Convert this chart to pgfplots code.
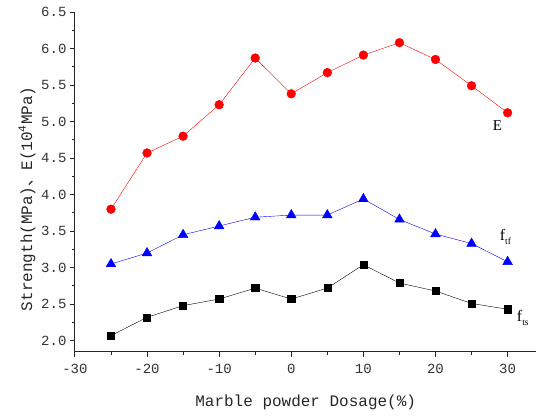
\documentclass[border=0pt]{standalone}
\usepackage{pgfplots}
\pgfplotsset{compat=1.18}
\usepackage{fontspec}
\setmainfont{Liberation Mono}
\newfontfamily\cjk{Noto Sans CJK SC}
\newfontfamily\serif{Liberation Serif}
\begin{document}
\begin{tikzpicture}
\begin{axis}[
  scale only axis, width=462pt, height=340pt,
  xmin=-30, xmax=34, ymin=1.85, ymax=6.5,
  axis x line=bottom, axis y line=left,
  axis line style={-, line width=1.1pt, black!85},
  xtick={-30,-20,...,30}, ytick={2.0,2.5,...,6.5},
  minor x tick num=1, minor y tick num=1,
  tick align=outside, major tick length=5pt, minor tick length=3pt,
  tick style={line width=0.9pt, black!85},
  /pgf/number format/assume math mode=true,
  yticklabel style={/pgf/number format/.cd, fixed, fixed zerofill, precision=1},
  xticklabel style={yshift=-4pt},
  ticklabel style={font=\fontsize{14}{16}\selectfont, text=black!80},
  label style={font=\fontsize{16}{18}\selectfont, text=black!85},
  xlabel={Marble powder Dosage(\%)},
  ylabel={Strength(MPa){\cjk 、}E(10\textsuperscript{4}MPa)},
  xlabel style={at={(axis description cs:0.5,0)}, anchor=center, yshift=-51pt},
  ylabel style={at={(axis description cs:0,0.45)}, anchor=center, yshift=48pt},
  clip=false,
]
\addplot[red, thin, mark=*, mark size=4.4pt, mark options={fill=red, draw=red}] coordinates {
(-25,3.80) (-20,4.57) (-15,4.80) (-10,5.23) (-5,5.87) (0,5.38) (5,5.67) (10,5.91) (15,6.08) (20,5.85) (25,5.49) (30,5.12)};
\addplot[blue, thin, mark=triangle*, mark size=5.6pt, mark options={fill=blue, draw=blue}] coordinates {
(-25,3.05) (-20,3.20) (-15,3.45) (-10,3.57) (-5,3.69) (0,3.72) (5,3.72) (10,3.94) (15,3.66) (20,3.46) (25,3.33) (30,3.08)};
\addplot[black, thin, mark=square*, mark size=3.6pt, mark options={fill=black, draw=black}] coordinates {
(-25,2.07) (-20,2.32) (-15,2.48) (-10,2.57) (-5,2.72) (0,2.57) (5,2.72) (10,3.04) (15,2.79) (20,2.68) (25,2.51) (30,2.43)};
\node[font=\serif\fontsize{15}{17}\selectfont] at (axis cs:28.6,4.95) {E};
\node[font=\serif\fontsize{16}{18}\selectfont] at (axis cs:29.7,3.42) {f\raisebox{-0.5ex}{\fontsize{9.5}{10}\selectfont tf}};
\node[font=\serif\fontsize{16}{18}\selectfont] at (axis cs:32.1,2.31) {f\raisebox{-0.5ex}{\fontsize{9.5}{10}\selectfont ts}};
\path (rel axis cs:0,0) -- ++(-75pt,-64pt);
\path (rel axis cs:1,1) -- ++(0pt,12pt);
\end{axis}
\end{tikzpicture}
\end{document}
